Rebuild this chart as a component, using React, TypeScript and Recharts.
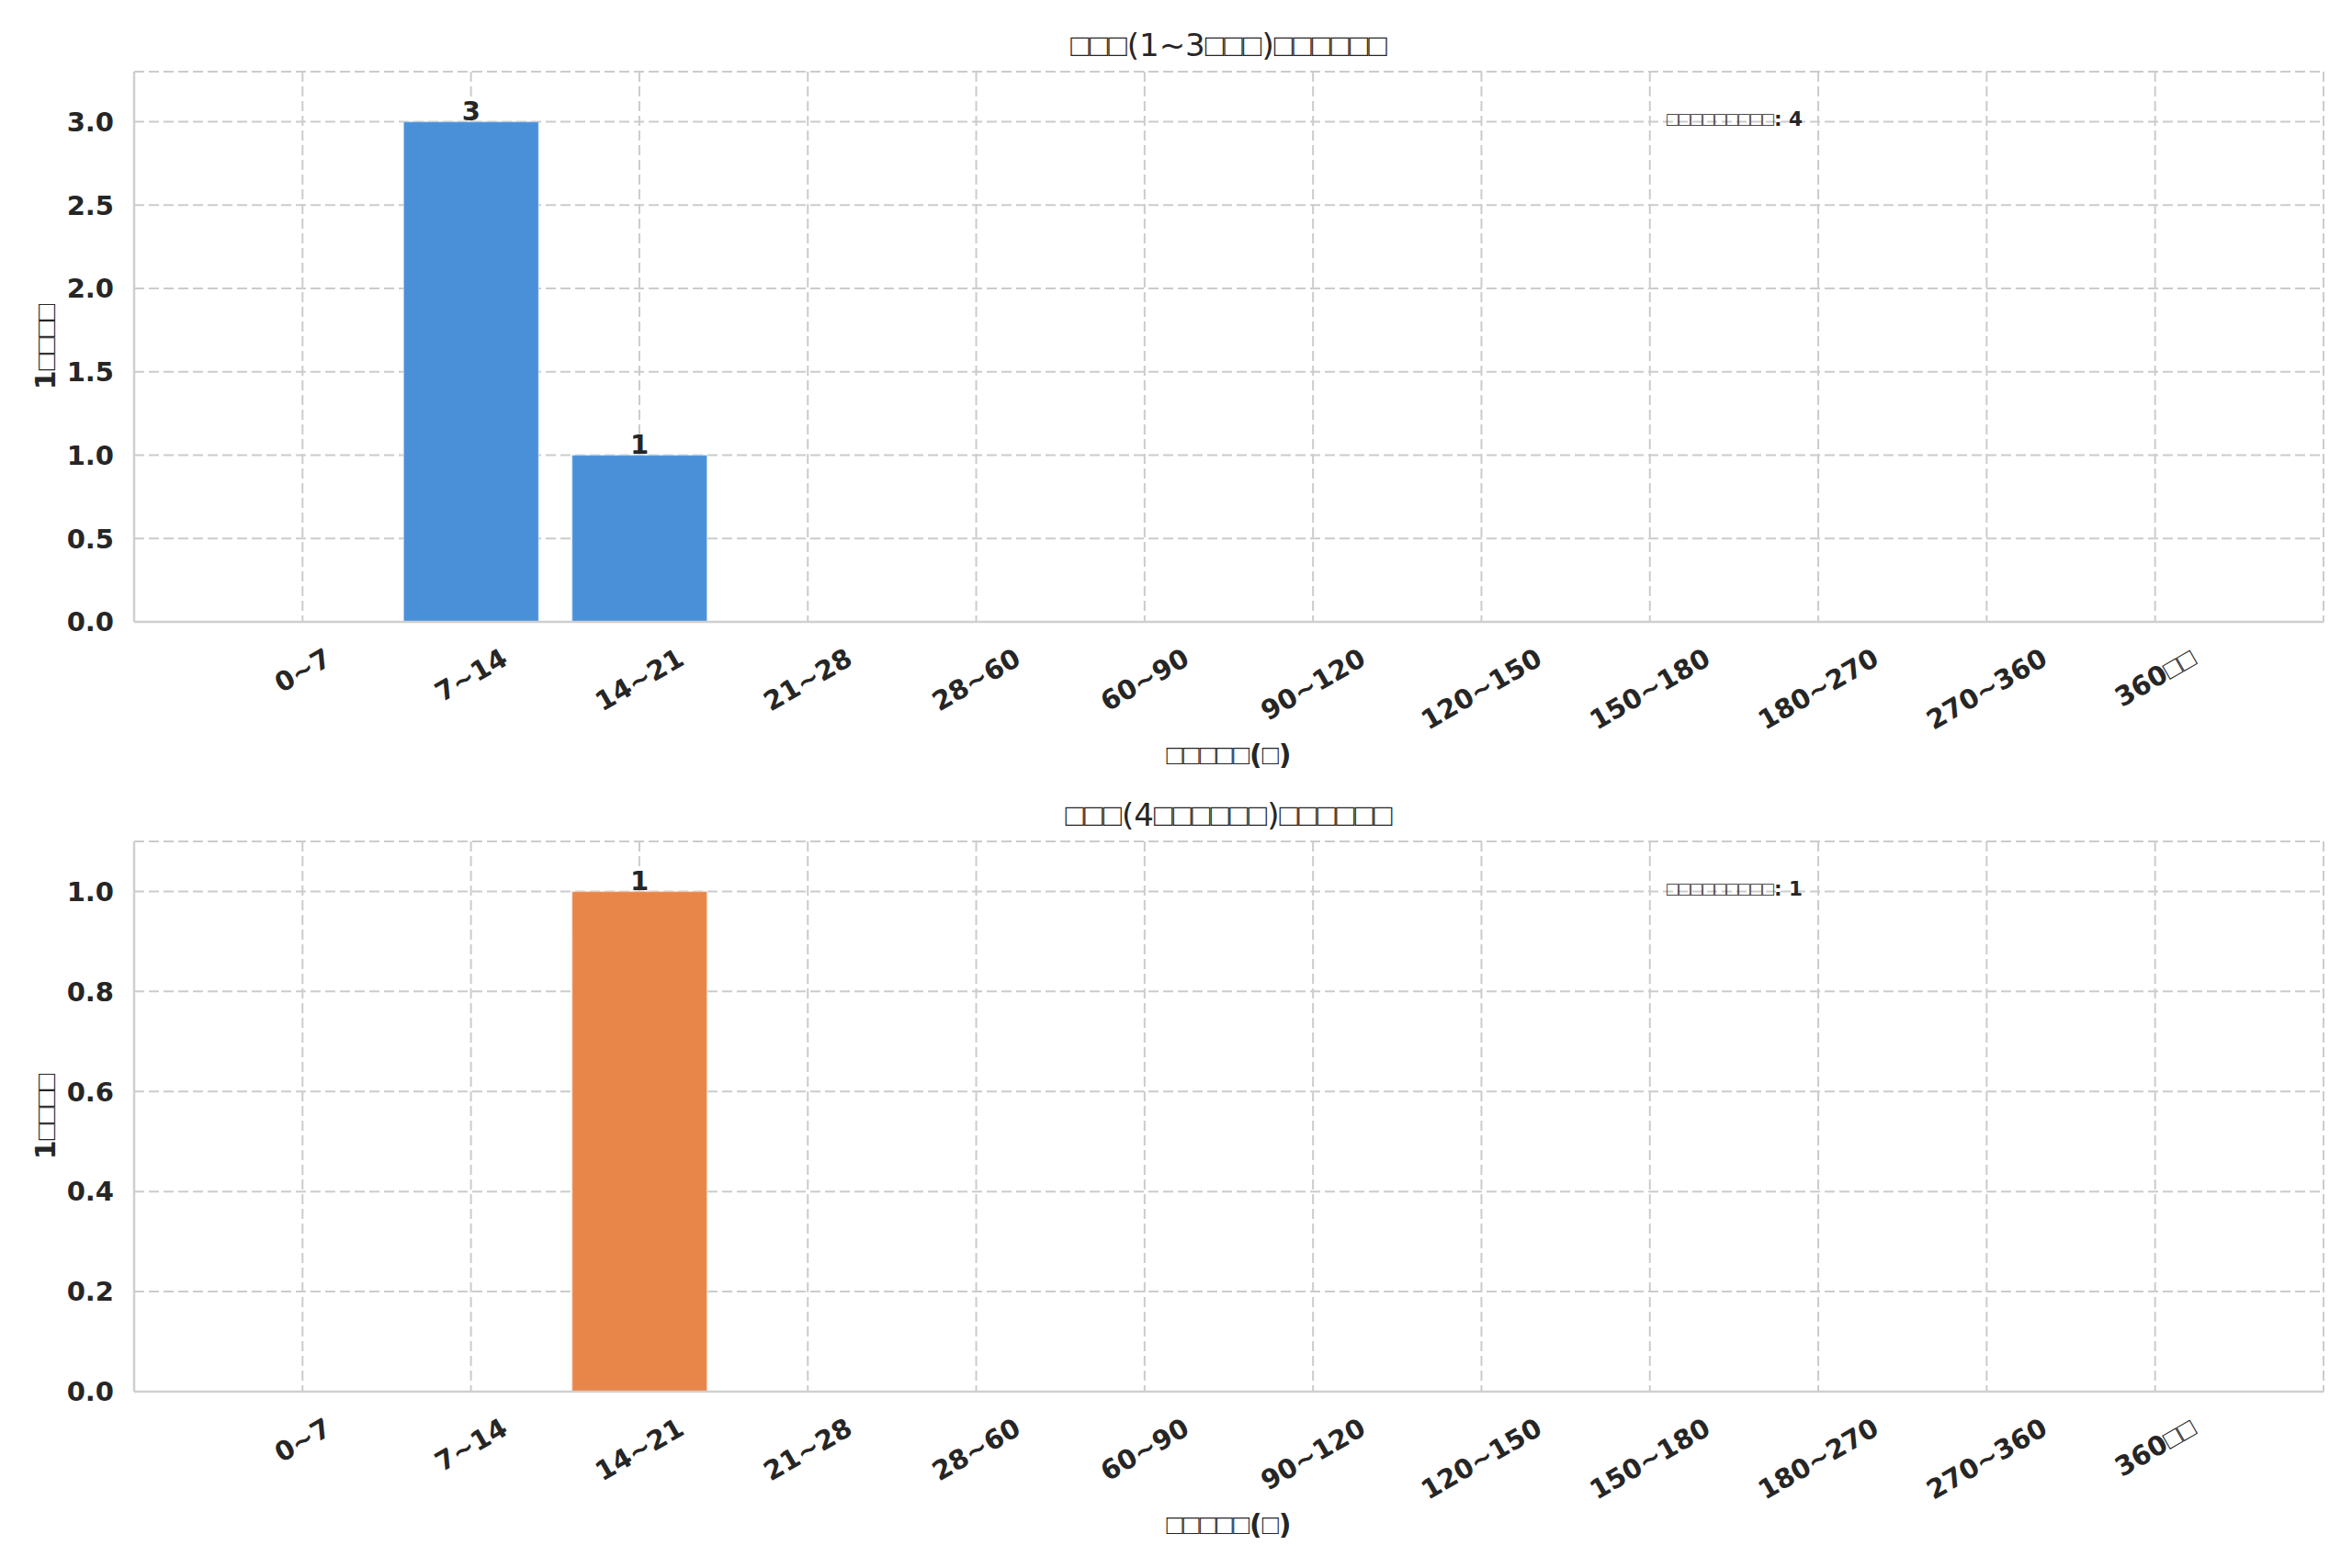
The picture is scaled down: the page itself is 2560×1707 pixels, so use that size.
import React from 'react';
import {
  BarChart,
  Bar,
  XAxis,
  YAxis,
  CartesianGrid,
  LabelList,
} from 'recharts';

// interval buckets (days) on the x axis
const intervals = [
  '0~7',
  '7~14',
  '14~21',
  '21~28',
  '28~60',
  '60~90',
  '90~120',
  '120~150',
  '150~180',
  '180~270',
  '270~360',
  '360□□',
];

// user counts per bucket
const lowFreqCounts = [0, 3, 1, 0, 0, 0, 0, 0, 0, 0, 0, 0];
const highFreqCounts = [0, 0, 1, 0, 0, 0, 0, 0, 0, 0, 0, 0];

const lowFreqTicks = [0, 0.5, 1.0, 1.5, 2.0, 2.5, 3.0];
const highFreqTicks = [0, 0.2, 0.4, 0.6, 0.8, 1.0];

const titleLow = '□□□(1~3□□□)□□□□□□';
const titleHigh = '□□□(4□□□□□□)□□□□□□';
const xTitle = '□□□□□(□)';
const yTitle = '1□□□□';
const totalLabel = '□□□□□□□□□';

const FONT = "'DejaVu Sans', sans-serif";
const BOX_FONT = "'Liberation Sans', sans-serif";
const INK = '#262626';
const GRID = '#cccccc';
const FRAME = '#cfcfcf';

const PLOT_W = 2560 - 146 - 31;
const UNIT = PLOT_W / (intervals.length + 1);

// tofu-like boxes get a narrower font so widths stay close to the original
function runs(s: string) {
  return s
    .split(/(□+)/)
    .filter(Boolean)
    .map((p, i) =>
      p[0] === '□' ? (
        <tspan key={i} fontFamily={BOX_FONT} fontWeight="normal">
          {p}
        </tspan>
      ) : (
        <tspan key={i}>{p}</tspan>
      ),
    );
}

function htmlRuns(s: string) {
  return s
    .split(/(□+)/)
    .filter(Boolean)
    .map((p, i) =>
      p[0] === '□' ? (
        <span key={i} style={{ fontFamily: BOX_FONT, fontWeight: 'normal' }}>
          {p}
        </span>
      ) : (
        <span key={i}>{p}</span>
      ),
    );
}

function textWidthEm(s: string) {
  let w = 0;
  for (const c of s) {
    if (c === '□') w += 0.604;
    else if (c === '~') w += 0.838;
    else w += 0.696;
  }
  return w;
}

const XTick = ({ x, y, payload }: { x?: number; y?: number; payload?: { value: string } }) => {
  const label = payload?.value ?? '';
  const w = textWidthEm(label) * 29;
  const cy = (y ?? 0) + 28 + (w * 0.5 + 17.3) / 2;
  return (
    <g transform={`translate(${x},${cy}) rotate(-30)`}>
      <text
        x={0}
        y={0}
        dy="0.35em"
        textAnchor="middle"
        fontSize={29}
        fontWeight="bold"
        fontFamily={FONT}
        fill={INK}
      >
        {runs(label)}
      </text>
    </g>
  );
};

const XLabel = ({ viewBox }: { viewBox?: { x: number; y: number; width: number; height: number } }) => {
  if (!viewBox) return null;
  return (
    <text
      x={viewBox.x + viewBox.width / 2}
      y={viewBox.y + 144}
      dy="0.35em"
      textAnchor="middle"
      fontSize={30}
      fontWeight="bold"
      fontFamily={FONT}
      fill={INK}
    >
      {runs(xTitle)}
    </text>
  );
};

const YLabel = ({ viewBox }: { viewBox?: { x: number; y: number; width: number; height: number } }) => {
  if (!viewBox) return null;
  const cx = viewBox.x + 49;
  const cy = viewBox.y + viewBox.height / 2;
  return (
    <text
      transform={`translate(${cx},${cy}) rotate(-90)`}
      x={0}
      y={0}
      dy="0.35em"
      textAnchor="middle"
      fontSize={30}
      fontWeight="bold"
      fontFamily={FONT}
      fill={INK}
    >
      {runs(yTitle)}
    </text>
  );
};

function Panel({
  top,
  title,
  values,
  ticks,
  yMax,
  color,
}: {
  top: number;
  title: string;
  values: number[];
  ticks: number[];
  yMax: number;
  color: string;
}) {
  const data = intervals.map((name, i) => ({ name, value: values[i] }));
  const total = values.reduce((a, b) => a + b, 0);

  return (
    <div style={{ position: 'absolute', left: 0, top, width: 2560, height: 860 }}>
      <div
        style={{
          position: 'absolute',
          left: 146,
          width: PLOT_W,
          top: 29,
          lineHeight: '40px',
          textAlign: 'center',
          fontSize: 34,
          color: INK,
          fontFamily: FONT,
        }}
      >
        {htmlRuns(title)}
      </div>
      <BarChart
        width={2560}
        height={860}
        data={data}
        margin={{ top: 78, right: 31, bottom: 0, left: 0 }}
        barCategoryGap="10%"
      >
        <CartesianGrid stroke={GRID} strokeWidth={2} strokeDasharray="11 5" />
        <XAxis
          dataKey="name"
          height={183}
          interval={0}
          padding={{ left: UNIT / 2, right: UNIT / 2 }}
          tickLine={false}
          tickSize={0}
          tickMargin={0}
          axisLine={{ stroke: FRAME, strokeWidth: 2.5 }}
          tick={<XTick />}
          label={<XLabel />}
        />
        <XAxis
          xAxisId="top"
          orientation="top"
          dataKey="name"
          height={0}
          tick={false}
          tickLine={false}
          axisLine={{ stroke: FRAME, strokeWidth: 2.5 }}
        />
        <YAxis
          width={146}
          domain={[0, yMax]}
          ticks={ticks}
          allowDataOverflow
          tickFormatter={(v: number) => v.toFixed(1)}
          tickLine={false}
          tickSize={0}
          tickMargin={22}
          axisLine={{ stroke: FRAME, strokeWidth: 2.5 }}
          tick={{ fontSize: 29, fontWeight: 'bold', fill: INK, fontFamily: FONT }}
          label={<YLabel />}
        />
        <YAxis
          yAxisId="right"
          orientation="right"
          width={0}
          tick={false}
          tickLine={false}
          axisLine={{ stroke: FRAME, strokeWidth: 2.5 }}
        />
        <Bar
          dataKey="value"
          fill={color}
          stroke="#ffffff"
          strokeOpacity={0.35}
          strokeWidth={1.5}
          isAnimationActive={false}
        >
          <LabelList
            dataKey="value"
            position="top"
            offset={1}
            formatter={(v: number) => (v > 0 ? String(v) : '')}
            style={{ fontSize: 29, fontWeight: 'bold', fill: INK, fontFamily: FONT }}
          />
        </Bar>
      </BarChart>
      <div
        style={{
          position: 'absolute',
          left: 1814,
          top: 116,
          lineHeight: '28px',
          fontSize: 21.5,
          fontWeight: 'bold',
          color: INK,
          fontFamily: FONT,
          whiteSpace: 'nowrap',
        }}
      >
        {htmlRuns(totalLabel)}: {total}
      </div>
    </div>
  );
}

export default function App() {
  return (
    <div
      style={{
        position: 'absolute',
        left: 0,
        top: 0,
        width: 2560,
        height: 1707,
        background: '#ffffff',
        fontFamily: FONT,
        overflow: 'hidden',
      }}
    >
      <Panel
        top={0}
        title={titleLow}
        values={lowFreqCounts}
        ticks={lowFreqTicks}
        yMax={3.3}
        color="#4a90d9"
      />
      <Panel
        top={838}
        title={titleHigh}
        values={highFreqCounts}
        ticks={highFreqTicks}
        yMax={1.1}
        color="#e8864a"
      />
    </div>
  );
}
